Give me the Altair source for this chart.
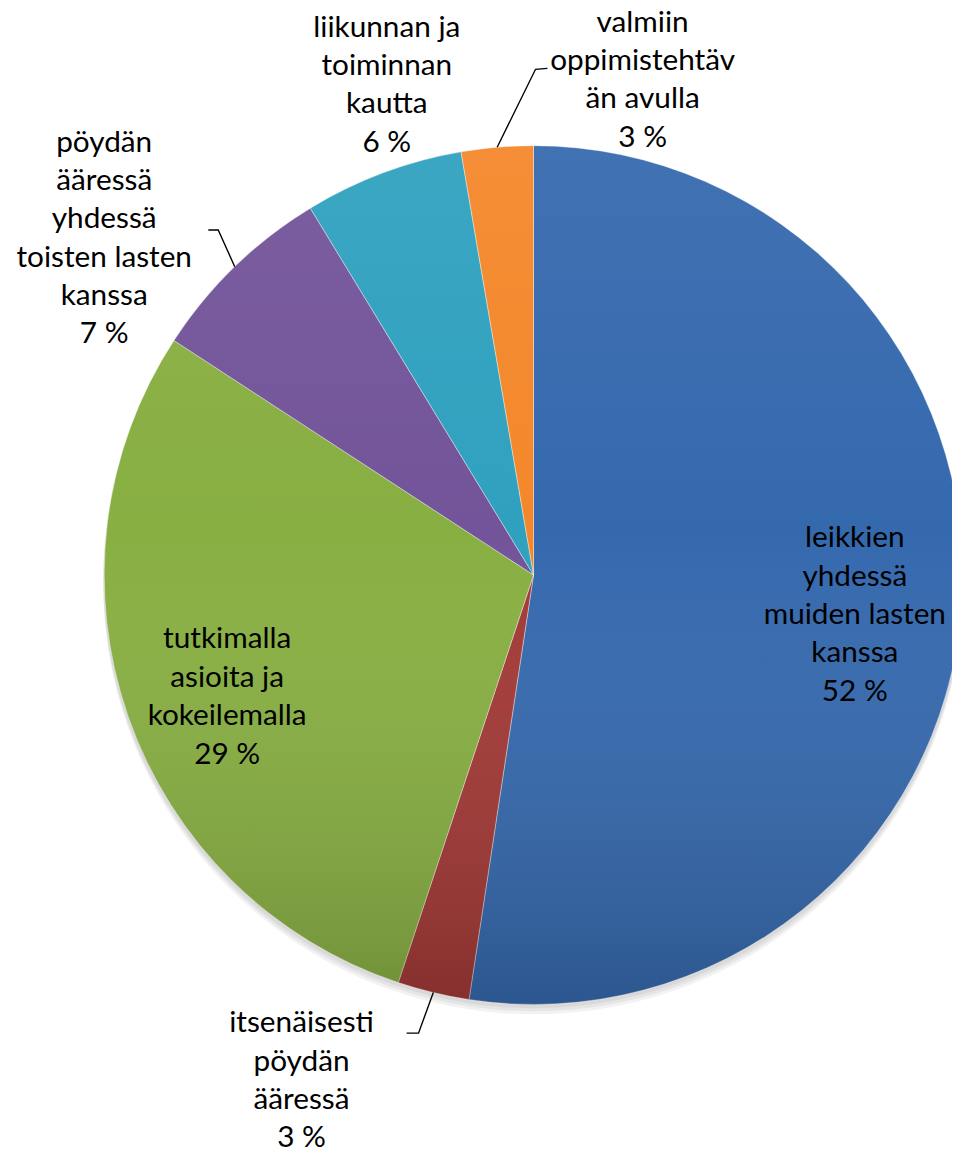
import math
import altair as alt
import pandas as pd

# ---------------- data ----------------
CATEGORIES = [
    "leikkien yhdessä muiden lasten kanssa",
    "itsenäisesti pöydän ääressä",
    "tutkimalla asioita ja kokeilemalla",
    "pöydän ääressä yhdessä toisten lasten kanssa",
    "liikunnan ja toiminnan kautta",
    "valmiin oppimistehtävän avulla",
]
VALUES = [52.4, 2.7, 29.1, 7.1, 6.0, 2.7]
LABEL_LINES = [
    ["leikkien", "yhdessä", "muiden lasten", "kanssa"],
    ["itsenäisesti", "pöydän", "ääressä"],
    ["tutkimalla", "asioita ja", "kokeilemalla"],
    ["pöydän", "ääressä", "yhdessä", "toisten lasten", "kanssa"],
    ["liikunnan ja", "toiminnan", "kautta"],
    ["valmiin", "oppimistehtäv", "än avulla"],
]

# ---------------- style / layout ----------------
COLORS = ["#3569AE", "#A33936", "#88AF42", "#73549A", "#2FA1BF", "#F4872A"]
W, H = 952, 1140
CX, CY, R = 530, 567, 433
FONT = "Lato"
FS = 30
LH = 38.7
# first-line baseline anchor of each label (px)
LABEL_POS = [(854, 539), (296, 1028), (221, 641), (97, 140), (382, 24), (640, 19)]
# leader lines: label-side points (px); the end point is the slice middle on the rim
LEADERS = {1: [(402, 1029), (414, 1029)], 3: [(202, 219), (212, 219)], 5: [(544, 56), (532, 57)]}

total = sum(VALUES)
df = pd.DataFrame({
    "category": CATEGORIES,
    "value": VALUES,
    "order": list(range(len(CATEGORIES))),
})

labels = pd.DataFrame({
    "label": ["\n".join(lines + [f"{round(v)} %"]) for lines, v in zip(LABEL_LINES, VALUES)],
    "lx": [p[0] for p in LABEL_POS],
    "ly": [p[1] for p in LABEL_POS],
})

# leader line end points from slice geometry
cum = 0.0
mids = []
for v in VALUES:
    mids.append((cum + v / 2) / total * 2 * math.pi)
    cum += v
rows = []
for idx, pts in LEADERS.items():
    a = mids[idx]
    end = (CX + R * math.sin(a), CY - R * math.cos(a))
    for k, (px, py) in enumerate(pts + [end]):
        rows.append({"seg": idx, "ord": k, "px": px, "py": py})
leaders = pd.DataFrame(rows)

one = pd.DataFrame({"k": [0]})

shadows = [
    alt.Chart(one).mark_arc(radius=R + 1, color="black", opacity=0.05).encode(
        theta=alt.value(0), theta2=alt.value(2 * math.pi),
        x=alt.value(CX), y=alt.value(CY + off))
    for off in (3, 6, 9)
]

pie = alt.Chart(df).mark_arc(radius=R, stroke="white", strokeWidth=1, strokeOpacity=0.4).encode(
    theta=alt.Theta("value:Q", stack=True),
    color=alt.Color("category:N", scale=alt.Scale(domain=CATEGORIES, range=COLORS), legend=None),
    order=alt.Order("order:Q"),
    x=alt.value(CX),
    y=alt.value(CY),
)

overlay = alt.Chart(one).mark_arc(
    radius=R,
    color=alt.LinearGradient(
        gradient="linear",
        stops=[
            alt.GradientStop(color="rgba(255,255,255,0.06)", offset=0),
            alt.GradientStop(color="rgba(255,255,255,0)", offset=0.45),
            alt.GradientStop(color="rgba(0,0,0,0.18)", offset=1),
        ],
        x1=0, x2=0, y1=0, y2=1,
    ),
).encode(theta=alt.value(0), theta2=alt.value(2 * math.pi), x=alt.value(CX), y=alt.value(CY))

lines = alt.Chart(leaders).mark_line(color="black", strokeWidth=1.4).encode(
    x=alt.X("px:Q", scale=None, axis=None),
    y=alt.Y("py:Q", scale=None, axis=None),
    detail="seg:N",
    order="ord:Q",
)

text = alt.Chart(labels).mark_text(
    font=FONT, fontSize=FS, lineBreak="\n", lineHeight=LH,
    align="center", baseline="alphabetic", color="black",
).encode(
    x=alt.X("lx:Q", scale=None, axis=None),
    y=alt.Y("ly:Q", scale=None, axis=None),
    text="label:N",
)

chart = alt.layer(*shadows, pie, overlay, lines, text).properties(
    width=W, height=H, padding=0,
    autosize=alt.AutoSizeParams(type="none"),
    background="white",
).configure_view(stroke=None)

chart.save("out.html", embed_options={"renderer": "svg", "actions": False})
